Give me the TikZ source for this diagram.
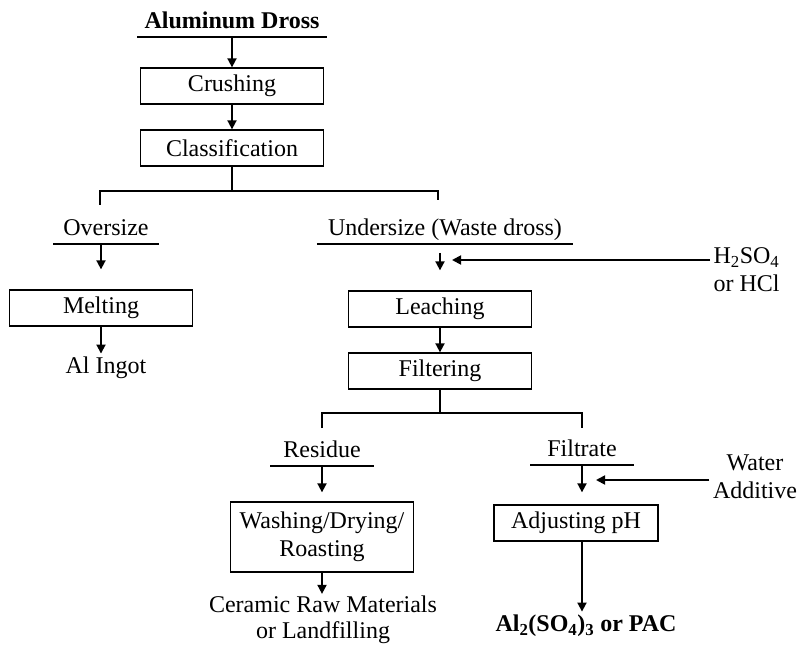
\documentclass[tikz,border=0pt]{standalone}
\usepackage{fontspec}
\setmainfont{Liberation Serif}
\usetikzlibrary{arrows.meta}
\tikzset{
  stepbox/.style={draw,line width=1.3pt,minimum width=183pt,minimum height=36pt,inner sep=2pt},
  stream/.style={inner xsep=0pt,inner ysep=8pt,text depth=0pt,anchor=south},
  flow/.style={->,line width=1.8pt},
  link/.style={line width=1.5pt},
  rule/.style={line width=2pt}
}
\begin{document}
\begin{tikzpicture}[x=1pt,y=-1pt,>={Triangle[length=9pt,width=9pt]},
  every node/.style={font=\fontsize{24}{28}\selectfont}]
\useasboundingbox (0,0) rectangle (798,647);
% Ausgangsmaterial
\node[stream,minimum width=189pt] (dross) at (232,37) {\textbf{Aluminum Dross}};
\draw[rule] (dross.south west) -- (dross.south east);
% Zerkleinern und Klassieren
\node[stepbox] (crush) at (232,86) {Crushing};
\node[stepbox] (classif) at (232,148) {Classification};
\draw[flow] (dross.south) -- (crush.north);
\draw[flow] (crush.south) -- (classif.north);
\coordinate (split1) at (232,191);
\coordinate (dropL) at (100,205);
\coordinate (dropR) at (438,200);
\draw[link] (classif.south) -- (split1);
\draw[link] (dropL) |- (split1) -| (dropR);
% Grobfraktion
\node[stream,minimum width=105pt] (over) at (106,244) {Oversize};
\draw[rule] (over.south west) -- (over.south east);
\node[stepbox] (melt) at (101,308) {Melting};
\node (ingot) at (106,368) {Al Ingot};
\draw[flow,shorten >=20pt] (over.south -| melt) -- (melt.north);
\draw[flow] (melt.south) -- (ingot.north -| melt);
% Feinfraktion und Laugung
\node[stream,minimum width=256pt] (under) at (445,244) {Undersize (Waste dross)};
\draw[rule] (under.south west) -- (under.south east);
\node[stepbox] (leach) at (440,309) {Leaching};
\node[stepbox] (filter) at (440,371) {Filtering};
\node[align=left,anchor=west] (acid) at (710,270) {H\textsubscript{2}SO\textsubscript{4}\\or HCl};
\coordinate (acidin) at (452,260);
\draw[flow] (acidin -| acid.west) -- (acidin);
\draw[flow,shorten <=9pt,shorten >=20pt] (under.south -| leach) -- (leach.north);
\draw[flow] (leach.south) -- (filter.north);
\coordinate (split2) at (440,413);
\coordinate (dropRes) at (322,428);
\coordinate (dropFil) at (582,428);
\draw[link] (filter.south) -- (split2);
\draw[link] (dropRes) |- (split2) -| (dropFil);
% Rueckstand
\node[stream,minimum width=103pt] (resid) at (322,466) {Residue};
\draw[rule] (resid.south west) -- (resid.south east);
\node[stepbox,minimum height=70pt,align=center] (wash) at (322,537) {Washing/Drying/\\Roasting};
\node[align=center,inner sep=2pt,font=\fontsize{24}{26}\selectfont] (ceramic) at (323,620) {Ceramic Raw Materials\\or Landfilling};
\draw[flow,shorten >=9pt] (resid.south -| wash) -- (wash.north);
\draw[flow] (wash.south) -- (ceramic.north -| wash);
% Filtrat
\node[stream,minimum width=103pt] (filt) at (582,465) {Filtrate};
\draw[rule] (filt.south west) -- (filt.south east);
\node[stepbox,minimum width=164pt] (adjust) at (576,523) {Adjusting pH};
\node[align=center] (water) at (755,477) {Water\\Additive};
\coordinate (waterin) at (596,480);
\draw[flow] (waterin -| water.west) -- (waterin);
\draw[flow,shorten >=12pt] (filt.south) -- (filt.south |- adjust.north);
\node (product) at (586,626) {\textbf{Al\textsubscript{2}(SO\textsubscript{4})\textsubscript{3} or PAC}};
\draw[flow] (adjust.south -| filt.south) -- (product.north -| filt.south);
\end{tikzpicture}
\end{document}
